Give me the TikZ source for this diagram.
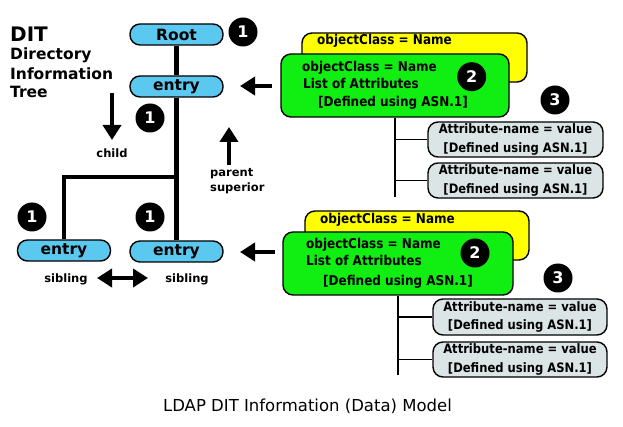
\documentclass[tikz,border=0pt]{standalone}
\usepackage{fontspec}
\setmainfont{DejaVu Sans}
\newfontfamily\condf{DejaVu Sans}[FakeStretch=0.89]
\usetikzlibrary{arrows.meta}
\definecolor{skyb}{HTML}{5BC8EF}
\definecolor{ylw}{HTML}{FFFF00}
\definecolor{grn}{HTML}{11EE11}
\definecolor{gry}{HTML}{DCE5E5}
\begin{document}
\begin{tikzpicture}[x=1pt,y=-1pt,
  pill/.style={draw=black,line width=1.4pt,fill=skyb,rounded corners=10pt,minimum width=93pt,minimum height=21pt,inner sep=0pt,font=\fontsize{15.5}{16}\selectfont\bfseries},
  badge/.style={circle,fill=black,text=white,minimum size=29pt,inner sep=0pt,font=\fontsize{16}{16}\selectfont\bfseries},
  ocbox/.style={draw=black,line width=1.4pt,rounded corners=10pt,inner sep=0pt},
  attrbox/.style={draw=black,line width=1.4pt,fill=gry,rounded corners=10pt,inner sep=0pt,minimum width=175pt,minimum height=35pt,align=center,font=\condf\fontsize{13}{18.4}\selectfont\bfseries},
  boxtxt/.style={anchor=base west,inner sep=0pt,font=\condf\fontsize{13.5}{14}\selectfont\bfseries},
  lbl/.style={inner sep=0pt,font=\fontsize{11.5}{14}\selectfont\bfseries},
  trunk/.style={line width=4.5pt,line join=miter},
  thin/.style={line width=1.4pt},
  bigarrow/.style={line width=4.5pt,-{Triangle[width=18pt,length=15pt]}},
  dblarrow/.style={line width=4.5pt,{Triangle[width=18pt,length=15pt]}-{Triangle[width=18pt,length=15pt]}}]
\useasboundingbox (0,0) rectangle (623,427);

% DIT title
\node[anchor=base west,inner sep=0pt,font=\fontsize{20}{20}\selectfont\bfseries] (dit) at (10,42) {DIT};
\node[anchor=base west,inner sep=0pt,font=\fontsize{15.5}{16}\selectfont\bfseries] (dir) at (10,59.5) {Directory};
\node[anchor=base west,inner sep=0pt,font=\fontsize{15.5}{16}\selectfont\bfseries] (inf) at (10,79.5) {Information};
\node[anchor=base west,inner sep=0pt,font=\fontsize{15.5}{16}\selectfont\bfseries] (tree) at (10,98) {Tree};

% tree nodes
\node[pill] (root) at (176.5,34.5) {Root};
\node[pill] (entry1) at (176.5,86.5) {entry};
\node[pill] (entry2) at (64,250.5) {entry};
\node[pill] (entry3) at (176.5,251.5) {entry};
\coordinate (br) at (176.5,177);
\draw[trunk] (root) -- (entry1);
\draw[trunk] (entry1) -- (entry3);
\draw[trunk] (br) -| (entry2.north);

% badges
\node[badge] (b1) at (243,32) {1};
\node[badge] (b2) at (150,118) {1};
\node[badge] (b3) at (32,217) {1};
\node[badge] (b4) at (150,217) {1};

% child / parent arrows
\coordinate (ch1) at (112,93);
\coordinate (ch2) at (112,140);
\draw[bigarrow] (ch1) -- (ch2);
\node[lbl,anchor=base] (child) at (112,157.5) {child};
\coordinate (pa1) at (229,165);
\coordinate (pa2) at (229,127);
\draw[bigarrow] (pa1) -- (pa2);
\node[lbl,anchor=base west] (parent) at (210,177) {parent};
\node[lbl,anchor=base west] (superior) at (210,191.5) {superior};

% sibling
\node[lbl,anchor=base] (sib1) at (66,282.5) {sibling};
\node[lbl,anchor=base] (sib2) at (187,282.5) {sibling};
\coordinate (sa) at (97,278);
\coordinate (sb) at (148,278);
\draw[dblarrow] (sa) -- (sb);

% upper object class group
\node[ocbox,fill=ylw,minimum width=225pt,minimum height=49pt] (y1) at (414.5,57.5) {};
\node[ocbox,fill=grn,minimum width=228pt,minimum height=63pt] (g1) at (395,85.5) {};
\node[boxtxt] (y1t) at (317,45) {objectClass = Name};
\node[boxtxt] (g1t1) at (302,71.7) {objectClass = Name};
\node[boxtxt] (g1t2) at (303,88.3) {List of Attributes};
\node[boxtxt] (g1t3) at (318,107) {[Defined using ASN.1]};
\node[badge] (b5) at (471.7,76.7) {2};
\node[badge] (b6) at (555,100) {3};
\node[attrbox] (a1) at (515.5,139.5) {Attribute-name = value\\{}[Defined using ASN.1]};
\node[attrbox] (a2) at (515.5,180.5) {Attribute-name = value\\{}[Defined using ASN.1]};
\coordinate (t1) at (395,197);
\draw[thin] (g1.south) -- (t1);
\draw[thin] (t1 |- a1.west) -- (a1.west);
\draw[thin] (t1 |- a2.west) -- (a2.west);
\coordinate (ar1) at (272,86);
\coordinate (ar1t) at (240,86);
\draw[bigarrow] (ar1) -- (ar1t);

% lower object class group
\node[ocbox,fill=ylw,minimum width=224pt,minimum height=49pt] (y2) at (417,235.5) {};
\node[ocbox,fill=grn,minimum width=230pt,minimum height=63pt] (g2) at (398,263.5) {};
\node[boxtxt] (y2t) at (320,223.3) {objectClass = Name};
\node[boxtxt] (g2t1) at (306,249) {objectClass = Name};
\node[boxtxt] (g2t2) at (306,266) {List of Attributes};
\node[boxtxt] (g2t3) at (323,285.7) {[Defined using ASN.1]};
\node[badge] (b7) at (475,253) {2};
\node[badge] (b8) at (558,278) {3};
\node[attrbox,minimum width=174pt,minimum height=36pt] (a3) at (520,317) {Attribute-name = value\\{}[Defined using ASN.1]};
\node[attrbox,minimum width=174pt] (a4) at (520,359.5) {Attribute-name = value\\{}[Defined using ASN.1]};
\coordinate (t2) at (398,375);
\draw[thin] (g2.south) -- (t2);
\draw[thin] (t2 |- a3.west) -- (a3.west);
\draw[thin] (t2 |- a4.west) -- (a4.west);
\coordinate (ar2) at (275,252);
\coordinate (ar2t) at (240,252);
\draw[bigarrow] (ar2) -- (ar2t);

% caption
\node[anchor=base,inner sep=0pt,font=\fontsize{16.5}{18}\selectfont] (cap) at (307.5,411) {LDAP DIT Information (Data) Model};
\end{tikzpicture}
\end{document}
